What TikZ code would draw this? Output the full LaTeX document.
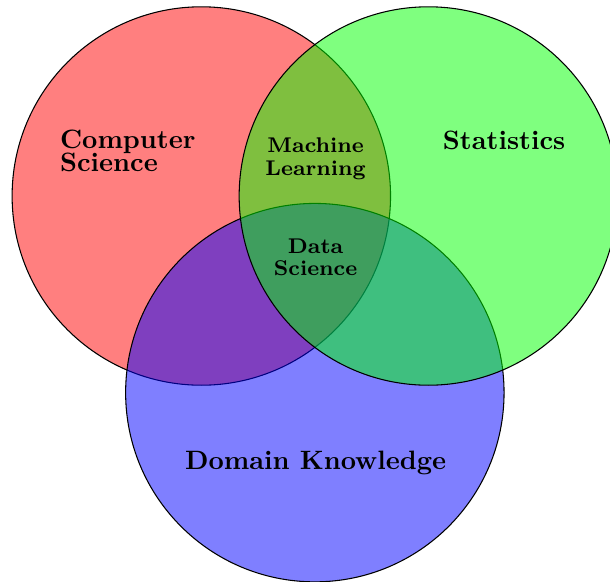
\documentclass[tikz,border=0pt]{standalone}
\usetikzlibrary{positioning}
\begin{document}
\begin{tikzpicture}[set/.style={circle,draw,minimum size=5cm,inner sep=0pt,fill opacity=0.5},
  biglabel/.style={font=\bfseries,align=left},
  smalllabel/.style={font=\bfseries\footnotesize,align=center}]
\useasboundingbox (-2.66,-5.10) rectangle (5.40,2.59);
\node (cs) [set, fill=red] at (0,0) {};
\node (dk) [set, fill=blue] at (1.5,-2.598) {};
\node (st) [set, fill=green] at (3,0) {};
\node (cslabel) [biglabel, anchor=west] at (-1.99,0.6) {Computer\\[-3.4pt]Science};
\node (stlabel) [biglabel] at (4.0,0.74) {Statistics};
\node (dklabel) [biglabel] at (1.51,-3.53) {Domain Knowledge};
\node (ml) [smalllabel] at (1.51,0.49) {Machine\\[-0.9pt]Learning};
\node (ds) [smalllabel] at (1.51,-0.81) {Data\\[-0.9pt]Science};
\end{tikzpicture}
\end{document}
